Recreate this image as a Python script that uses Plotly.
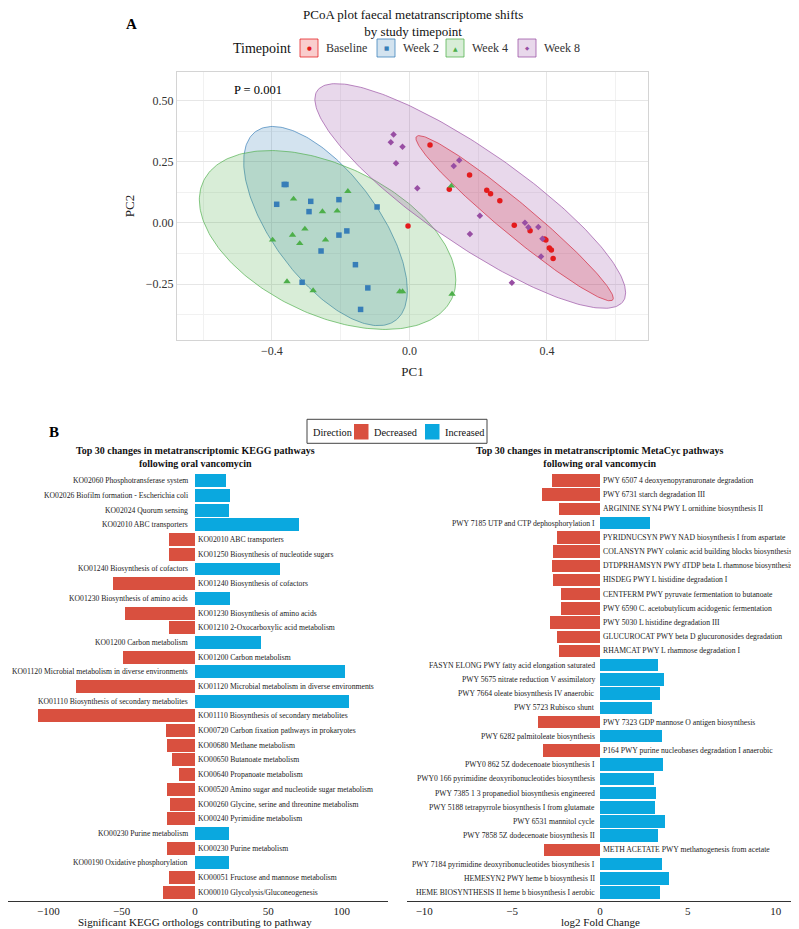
import numpy as np
import plotly.graph_objects as go

# the page body adds an 8 px margin, so the figure is sized to fill what is left
OFF = 8
W, H = 799 - OFF, 929 - OFF
FONT = "Liberation Serif"


def X(xs):
    return (xs - OFF) / W


def Y(ys):
    return 1 - (ys - OFF) / H


# ---------------- Panel A: PCoA ----------------
groups = ["Baseline", "Week 2", "Week 4", "Week 8"]
group_colors = ["#E41A1C", "#377EB8", "#4DAF4A", "#984EA3"]
group_symbols = ["circle", "square", "triangle-up", "diamond"]
group_glyphs = ["\u25CF", "\u25A0", "\u25B2", "\u25C6"]
group_sizes = [5.5, 5.5, 6.5, 5]

baseline_pc1 = [0.060, 0.175, 0.116, 0.225, 0.236, 0.263, 0.305, 0.351, 0.393, 0.397, 0.407, 0.413, 0.418, -0.004]
baseline_pc2 = [0.318, 0.196, 0.137, 0.133, 0.119, 0.090, -0.010, -0.032, -0.066, -0.070, -0.103, -0.111, -0.146, -0.013]

week2_pc1 = [-0.359, -0.364, -0.386, -0.287, -0.292, -0.205, -0.094, -0.205, -0.182, -0.257, -0.157, -0.312, -0.121, -0.142]
week2_pc2 = [0.157, 0.157, 0.076, 0.088, 0.046, 0.095, 0.065, -0.050, -0.033, -0.115, -0.171, -0.243, -0.266, -0.354]

week4_pc1 = [-0.179, -0.337, -0.253, -0.210, -0.304, -0.340, -0.398, -0.319, -0.244, -0.356, -0.280, -0.028, -0.020, 0.124, 0.122]
week4_pc2 = [0.129, 0.098, 0.046, 0.049, -0.025, -0.050, -0.070, -0.084, -0.070, -0.240, -0.277, -0.281, -0.281, -0.291, 0.151]

week8_pc1 = [-0.046, -0.054, -0.020, -0.039, 0.145, 0.129, 0.023, 0.205, 0.176, 0.336, 0.346, 0.375, 0.387, 0.383, 0.298]
week8_pc2 = [0.361, 0.330, 0.311, 0.244, 0.256, 0.233, 0.142, 0.029, -0.045, 0.001, -0.018, -0.017, -0.065, -0.138, -0.245]

group_pc1 = [baseline_pc1, week2_pc1, week4_pc1, week8_pc1]
group_pc2 = [baseline_pc2, week2_pc2, week4_pc2, week8_pc2]

# 95% ellipses: centre + two conjugate semi-diameters
ell_cx = [0.306, -0.244, -0.238, 0.177]
ell_cy = [0.019, -0.013, -0.070, 0.110]
ell_ax = [0.287, 0.238, 0.373, 0.452]
ell_ay = [-0.327, -0.263, -0.164, -0.396]
ell_by = [0.085, 0.311, 0.327, 0.233]

p_value_text = "P = 0.001"

# ---------------- Panel B: KEGG ----------------
kegg_labels = [
    "KO02060 Phosphotransferase system",
    "KO02026 Biofilm formation - Escherichia coli",
    "KO02024 Quorum sensing",
    "KO02010 ABC transporters",
    "KO02010 ABC transporters",
    "KO01250 Biosynthesis of nucleotide sugars",
    "KO01240 Biosynthesis of cofactors",
    "KO01240 Biosynthesis of cofactors",
    "KO01230 Biosynthesis of amino acids",
    "KO01230 Biosynthesis of amino acids",
    "KO01210 2-Oxocarboxylic acid metabolism",
    "KO01200 Carbon metabolism",
    "KO01200 Carbon metabolism",
    "KO01120 Microbial metabolism in diverse environments",
    "KO01120 Microbial metabolism in diverse environments",
    "KO01110 Biosynthesis of secondary metabolites",
    "KO01110 Biosynthesis of secondary metabolites",
    "KO00720 Carbon fixation pathways in prokaryotes",
    "KO00680 Methane metabolism",
    "KO00650 Butanoate metabolism",
    "KO00640 Propanoate metabolism",
    "KO00520 Amino sugar and nucleotide sugar metabolism",
    "KO00260 Glycine, serine and threonine metabolism",
    "KO00240 Pyrimidine metabolism",
    "KO00230 Purine metabolism",
    "KO00230 Purine metabolism",
    "KO00190 Oxidative phosphorylation",
    "KO00051 Fructose and mannose metabolism",
    "KO00010 Glycolysis/Gluconeogenesis",
]
kegg_values = [21, 24, 23, 71, -18, -18, 58, -56, 24, -48, -18, 45, -49, 102, -81,
               105, -107, -20, -19, -16, -11, -19, -17, -19, 23, -19, 23, -18, -22]

# ---------------- Panel B: MetaCyc ----------------
metacyc_labels = [
    "PWY 6507 4 deoxyenopyranuronate degradation",
    "PWY 6731 starch degradation III",
    "ARGININE SYN4 PWY L ornithine biosynthesis II",
    "PWY 7185 UTP and CTP dephosphorylation I",
    "PYRIDNUCSYN PWY NAD biosynthesis I from aspartate",
    "COLANSYN PWY colanic acid building blocks biosynthesis",
    "DTDPRHAMSYN PWY dTDP beta L rhamnose biosynthesis",
    "HISDEG PWY L histidine degradation I",
    "CENTFERM PWY pyruvate fermentation to butanoate",
    "PWY 6590 C. acetobutylicum acidogenic fermentation",
    "PWY 5030 L histidine degradation III",
    "GLUCUROCAT PWY beta D glucuronosides degradation",
    "RHAMCAT PWY L rhamnose degradation I",
    "FASYN ELONG PWY fatty acid elongation saturated",
    "PWY 5675 nitrate reduction V assimilatory",
    "PWY 7664 oleate biosynthesis IV anaerobic",
    "PWY 5723 Rubisco shunt",
    "PWY 7323 GDP mannose O antigen biosynthesis",
    "PWY 6282 palmitoleate biosynthesis",
    "P164 PWY purine nucleobases degradation I anaerobic",
    "PWY0 862 5Z dodecenoate biosynthesis I",
    "PWY0 166 pyrimidine deoxyribonucleotides biosynthesis",
    "PWY 7385 1 3 propanediol biosynthesis engineered",
    "PWY 5188 tetrapyrrole biosynthesis I from glutamate",
    "PWY 6531 mannitol cycle",
    "PWY 7858 5Z dodecenoate biosynthesis II",
    "METH ACETATE PWY methanogenesis from acetate",
    "PWY 7184 pyrimidine deoxyribonucleotides biosynthesis I",
    "HEMESYN2 PWY heme b biosynthesis II",
    "HEME BIOSYNTHESIS II heme b biosynthesis I aerobic",
]
metacyc_lfc = [-2.72, -3.34, -2.34, 2.85, -2.45, -2.70, -2.74, -2.68, -2.26, -2.22,
               -2.85, -2.49, -2.34, 3.29, 3.63, 3.38, 2.96, -3.57, 3.53, -3.27,
               3.55, 3.08, 3.17, 3.12, 3.68, 3.30, -3.19, 3.51, 3.91, 3.40]

direction_names = ["Decreased", "Increased"]
direction_colors = ["#D9503F", "#0AA8DF"]

kegg_ticks = [-100, -50, 0, 50, 100]
lfc_ticks = [-10, -5, 0, 5, 10]
pc1_ticks = [-0.4, 0.0, 0.4]
pc1_minor = [-0.6, -0.2, 0.2, 0.6]
pc2_ticks = [-0.25, 0.0, 0.25, 0.5]
pc2_minor = [-0.375, -0.125, 0.125, 0.375]


def minus(v, fmt):
    return format(v, fmt).replace("-", "\u2212")


def rgba(hex_col, a):
    h = hex_col.lstrip("#")
    r, g, b = int(h[0:2], 16), int(h[2:4], 16), int(h[4:6], 16)
    return f"rgba({r},{g},{b},{a})"


fig = go.Figure()

# ---- ellipses ----
t = np.linspace(0, 2 * np.pi, 241)
for i, g in enumerate(groups):
    ex = ell_cx[i] + ell_ax[i] * np.cos(t)
    ey = ell_cy[i] + ell_ay[i] * np.cos(t) + ell_by[i] * np.sin(t)
    fig.add_trace(go.Scatter(
        x=ex, y=ey, mode="lines", fill="toself",
        fillcolor=rgba(group_colors[i], 0.22),
        line=dict(color=rgba(group_colors[i], 0.75), width=0.9),
        hoverinfo="skip", showlegend=False, xaxis="x", yaxis="y"))

# ---- points ----
for i, g in enumerate(groups):
    fig.add_trace(go.Scatter(
        x=group_pc1[i], y=group_pc2[i], mode="markers", name=g,
        marker=dict(color=group_colors[i], symbol=group_symbols[i], size=group_sizes[i]),
        showlegend=False, xaxis="x", yaxis="y"))

# ---- bars ----
kegg_pos = list(range(len(kegg_labels)))
metacyc_pos = list(range(len(metacyc_labels)))

for d, dname in enumerate(direction_names):
    sel = [k for k, v in enumerate(kegg_values) if (v > 0) == (d == 1)]
    fig.add_trace(go.Bar(
        x=[kegg_values[k] for k in sel], y=[kegg_pos[k] for k in sel],
        orientation="h", width=0.88, name=dname,
        marker=dict(color=direction_colors[d], line=dict(width=0)),
        showlegend=False, xaxis="x2", yaxis="y2"))
for d, dname in enumerate(direction_names):
    sel = [k for k, v in enumerate(metacyc_lfc) if (v > 0) == (d == 1)]
    fig.add_trace(go.Bar(
        x=[metacyc_lfc[k] for k in sel], y=[metacyc_pos[k] for k in sel],
        orientation="h", width=0.88, name=dname,
        marker=dict(color=direction_colors[d], line=dict(width=0)),
        showlegend=False, xaxis="x3", yaxis="y3"))

annotations = []
shapes = []
LABEL_SIZE = 7.7
for k, lab in enumerate(kegg_labels):
    pos = kegg_values[k] > 0
    annotations.append(dict(
        x=0, y=kegg_pos[k], xref="x2", yref="y2", text=lab, showarrow=False,
        xanchor="right" if pos else "left", xshift=-5 if pos else 1.5,
        font=dict(size=LABEL_SIZE, color="#1a1a1a", family=FONT)))
for k, lab in enumerate(metacyc_labels):
    pos = metacyc_lfc[k] > 0
    annotations.append(dict(
        x=0, y=metacyc_pos[k], xref="x3", yref="y3", text=lab, showarrow=False,
        xanchor="right" if pos else "left", xshift=-2.5 if pos else 1,
        font=dict(size=LABEL_SIZE, color="#1a1a1a", family=FONT)))

# titles, axis titles & panel letters
annotations += [
    dict(x=X(412.5), y=Y(23), xref="paper", yref="paper", showarrow=False,
         text="PCoA plot faecal metatranscriptome shifts<br>by study timepoint",
         font=dict(size=13, color="#111111", family=FONT), xanchor="center", yanchor="middle"),
    dict(x=X(124), y=Y(14), xref="paper", yref="paper", showarrow=False,
         text="<b>A</b>", font=dict(size=15, color="#000000", family=FONT)),
    dict(x=X(47), y=Y(432), xref="paper", yref="paper", showarrow=False,
         text="<b>B</b>", font=dict(size=15, color="#000000", family=FONT)),
    dict(x=X(195), y=Y(457), xref="paper", yref="paper", showarrow=False,
         text="<b>Top 30 changes in metatranscriptomic KEGG pathways<br>following oral vancomycin</b>",
         font=dict(size=10, color="#111111", family=FONT), xanchor="center", yanchor="middle"),
    dict(x=X(600), y=Y(457), xref="paper", yref="paper", showarrow=False,
         text="<b>Top 30 changes in metatranscriptomic MetaCyc pathways<br>following oral vancomycin</b>",
         font=dict(size=10, color="#111111", family=FONT), xanchor="center", yanchor="middle"),
    dict(x=X(195), y=Y(921.5), xref="paper", yref="paper", showarrow=False,
         text="Significant KEGG orthologs contributing to pathway",
         font=dict(size=11, color="#111111", family=FONT), xanchor="center", yanchor="middle"),
    dict(x=X(600), y=Y(921.5), xref="paper", yref="paper", showarrow=False,
         text="log2 Fold Change",
         font=dict(size=11, color="#111111", family=FONT), xanchor="center", yanchor="middle"),
    dict(x=-0.517, y=0.544, xref="x", yref="y", showarrow=False, text=p_value_text,
         xanchor="left", yanchor="middle", font=dict(size=12.5, color="#000000", family=FONT)),
]

# ---- legend A (Timepoint): ggplot-style keys ----
annotations.append(dict(x=X(231), y=Y(48), xref="paper", yref="paper", showarrow=False,
                        text="Timepoint", xanchor="left", yanchor="middle",
                        font=dict(size=14, color="#111111", family=FONT)))
key_left_a = [300, 377, 446, 518]
for i, g in enumerate(groups):
    x0 = key_left_a[i]
    shapes.append(dict(type="rect", xref="paper", yref="paper",
                       x0=X(x0), x1=X(x0 + 18), y0=Y(57), y1=Y(39),
                       fillcolor=rgba(group_colors[i], 0.22),
                       line=dict(color=rgba(group_colors[i], 0.75), width=1)))
    annotations.append(dict(x=X(x0 + 9), y=Y(48), xref="paper", yref="paper", showarrow=False,
                            text=group_glyphs[i], xanchor="center", yanchor="middle",
                            font=dict(size=5.5 if i != 2 else 6, color=group_colors[i],
                                      family="DejaVu Sans")))
    annotations.append(dict(x=X(x0 + 24), y=Y(48), xref="paper", yref="paper", showarrow=False,
                            text=g, xanchor="left", yanchor="middle",
                            font=dict(size=12, color="#333333", family=FONT)))

# ---- legend B (Direction) ----
shapes.append(dict(type="rect", xref="paper", yref="paper",
                   x0=X(307), x1=X(487), y0=Y(443.3), y1=Y(419.3),
                   fillcolor="white", line=dict(color="#444444", width=1)))
annotations.append(dict(x=X(310.5), y=Y(432), xref="paper", yref="paper", showarrow=False,
                        text="Direction", xanchor="left", yanchor="middle",
                        font=dict(size=10.3, color="#111111", family=FONT)))
key_left_b = [354, 425]
for d, dname in enumerate(direction_names):
    x0 = key_left_b[d]
    shapes.append(dict(type="rect", xref="paper", yref="paper",
                       x0=X(x0), x1=X(x0 + 14.5), y0=Y(439.5), y1=Y(424),
                       fillcolor=direction_colors[d], line=dict(width=0)))
    annotations.append(dict(x=X(x0 + 17.5), y=Y(432), xref="paper", yref="paper", showarrow=False,
                            text=dname, xanchor="left", yanchor="middle",
                            font=dict(size=10.3, color="#111111", family=FONT)))

GRID = "#e6e6e6"
MINOR = "#f1f1f1"
BORDER = "#d4d4d4"

fig.update_layout(
    width=W, height=H, margin=dict(l=0, r=0, t=0, b=0),
    paper_bgcolor="white", plot_bgcolor="white",
    font=dict(family=FONT, color="#222222", size=11),
    showlegend=False,
    bargap=0, barmode="overlay",
    annotations=annotations, shapes=shapes,
    xaxis=dict(domain=[X(177), X(648)], range=[-0.676, 0.694], anchor="y",
               tickvals=pc1_ticks, ticktext=[minus(v, ".1f") for v in pc1_ticks],
               showgrid=True, gridcolor=GRID, gridwidth=1, zeroline=False,
               minor=dict(tickvals=pc1_minor, showgrid=True, gridcolor=MINOR, ticks=""),
               showline=True, mirror=True, linecolor=BORDER, linewidth=1, ticks="",
               tickfont=dict(size=12, color="#333333"),
               title=dict(text="PC1", font=dict(size=13, color="#222222"), standoff=9)),
    yaxis=dict(domain=[Y(340), Y(72)], range=[-0.479, 0.617], anchor="x",
               tickvals=pc2_ticks, ticktext=[minus(v, ".2f") for v in pc2_ticks],
               showgrid=True, gridcolor=GRID, gridwidth=1, zeroline=False,
               minor=dict(tickvals=pc2_minor, showgrid=True, gridcolor=MINOR, ticks=""),
               showline=True, mirror=True, linecolor=BORDER, linewidth=1, ticks="",
               tickfont=dict(size=12, color="#333333"),
               title=dict(text="PC2", font=dict(size=13, color="#222222"), standoff=8)),
    xaxis2=dict(domain=[0, X(388)], range=[-127.5, 131.6], anchor="y2",
                tickvals=kegg_ticks, ticktext=[minus(v, "d") for v in kegg_ticks],
                showgrid=False, zeroline=False, showline=True, linecolor="#333333", linewidth=1,
                ticks="", tickfont=dict(size=11, color="#222222")),
    yaxis2=dict(domain=[Y(901), Y(472)], range=[len(kegg_labels) - 0.4, -0.6],
                anchor="x2", visible=False),
    xaxis3=dict(domain=[X(406.7), X(795)], range=[-11.0, 11.1], anchor="y3",
                tickvals=lfc_ticks, ticktext=[minus(v, "d") for v in lfc_ticks],
                showgrid=False, zeroline=False, showline=True, linecolor="#333333", linewidth=1,
                ticks="", tickfont=dict(size=11, color="#222222")),
    yaxis3=dict(domain=[Y(901), Y(472)], range=[len(metacyc_labels) - 0.4, -0.6],
                anchor="x3", visible=False),
)

fig.write_html("out.html")
